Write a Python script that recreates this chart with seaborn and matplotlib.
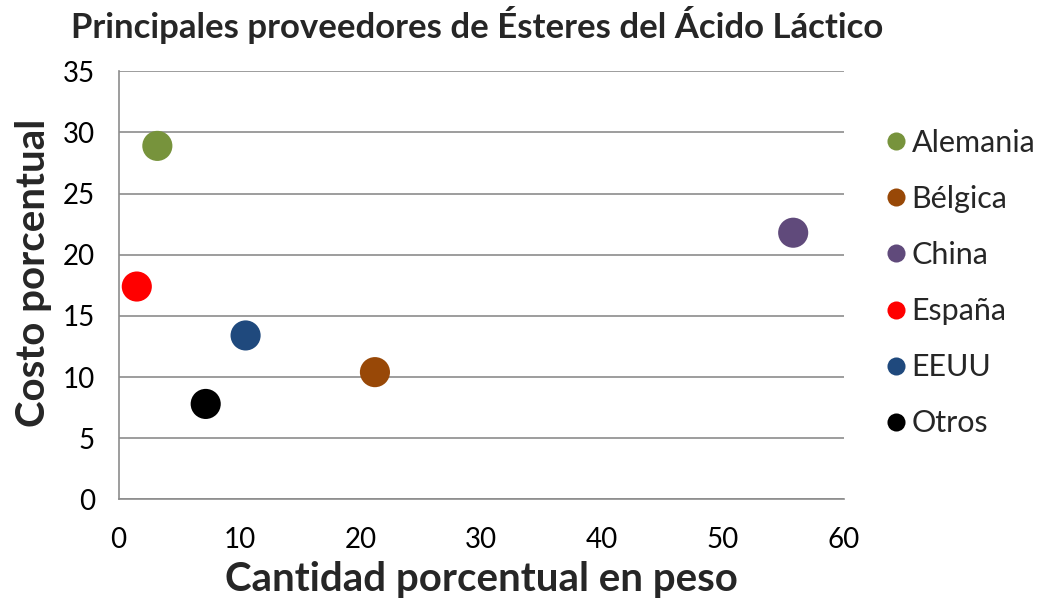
import matplotlib
matplotlib.use("Agg")
import matplotlib.pyplot as plt
import seaborn as sns
import pandas as pd

# Supplier data: share by weight (%) vs. share of cost (%)
paises = ["Alemania", "Bélgica", "China", "España", "EEUU", "Otros"]
cantidad = [3.2, 21.2, 55.8, 1.5, 10.5, 7.2]
costo = [28.9, 10.4, 21.8, 17.4, 13.4, 7.8]
colores = ["#77933C", "#984807", "#604A7B", "#FF0000", "#1F497D", "#000000"]

df = pd.DataFrame({"País": paises, "Cantidad": cantidad, "Costo": costo})

sns.set_theme(style="white")
plt.rcParams["font.family"] = ["Lato", "DejaVu Sans"]

fig = plt.figure(figsize=(10.4, 5.98), dpi=100)
ax = fig.add_axes([0.1141, 0.165, 0.6974, 0.7158])

sns.scatterplot(data=df, x="Cantidad", y="Costo", hue="País",
                palette=dict(zip(paises, colores)), s=470,
                edgecolor="none", ax=ax, legend=True, zorder=3)

ax.set_xlim(0, 60)
ax.set_ylim(0, 35)
ax.set_xticks(range(0, 61, 10))
ax.set_yticks(range(0, 36, 5))
ax.yaxis.grid(True, color="#8c8c8c", linewidth=1.2)
ax.xaxis.grid(False)
ax.set_axisbelow(True)
for side in ["top", "right"]:
    ax.spines[side].set_visible(False)
for side in ["left", "bottom"]:
    ax.spines[side].set_color("#8c8c8c")
    ax.spines[side].set_linewidth(1.2)
ax.tick_params(axis="both", length=0, labelsize=20, colors="black")
ax.tick_params(axis="x", pad=20)
ax.tick_params(axis="y", pad=17)

ax.set_xlabel("Cantidad porcentual en peso", fontsize=29, fontweight="bold", labelpad=6)
ax.set_ylabel("Costo porcentual", fontsize=29, fontweight="bold")
ax.yaxis.set_label_coords(-0.092, 0.53)
fig.suptitle("Principales proveedores de Ésteres del Ácido Láctico",
             x=0.459, y=0.99, fontsize=25, fontweight="bold")

handles, labels = ax.get_legend_handles_labels()
ax.legend(handles, labels, loc="center left", bbox_to_anchor=(1.03, 0.505),
          frameon=False, fontsize=22, markerscale=0.6, handletextpad=-0.1,
          handlelength=1.2, labelspacing=0.92, borderaxespad=0)

fig.savefig("out.png", dpi=100)
